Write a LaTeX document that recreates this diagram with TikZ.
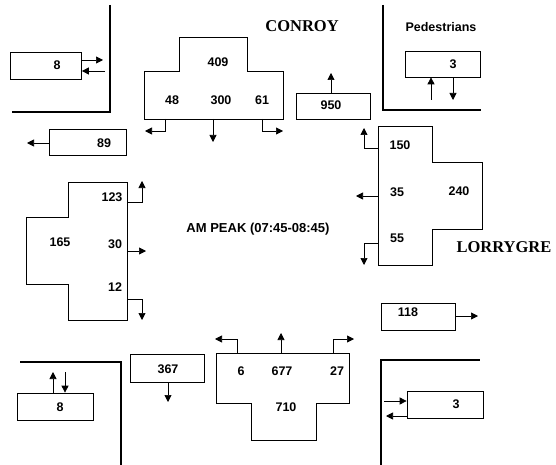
\documentclass[tikz,border=0pt]{standalone}
\usepackage{fontspec}
\setmainfont{Liberation Sans}
\newfontfamily\serifbold{Liberation Serif}
\usetikzlibrary{arrows.meta}
\tikzset{
  box/.style={draw, line width=0.7pt, inner sep=0pt},
  num/.style={font=\fontsize{12.5}{14}\selectfont\bfseries, inner sep=0pt},
  street/.style={font=\fontsize{16.5}{18}\serifbold\bfseries, inner sep=0pt},
  outline/.style={draw, line width=0.7pt},
  arr/.style={line width=0.7pt, -{Triangle[width=7pt,length=7pt]}},
  kerb/.style={line width=2.6pt}
}
\begin{document}
\begin{tikzpicture}[x=1pt,y=-1pt]
\useasboundingbox (0,0) rectangle (556,465);
% kerb corners
\draw[kerb] (110,5) -- (110,112) -- (12,112);
\draw[kerb] (383,5) -- (383,110) -- (481,110);
\draw[kerb] (20,362) -- (121,362) -- (121,465);
\draw[kerb] (381,465) -- (381,360) -- (480,360);
% titles
\node[street] (conroy) at (302,26) {CONROY};
\node[street] (lorry) at (504,247) {LORRYGRE};
\node[num] (ped) at (441,27) {Pedestrians};
\node[num, font=\fontsize{13}{15}\selectfont\bfseries] (peak) at (258,229) {AM PEAK (07:45-08:45)};
% north approach
\draw[outline] (179,37) -- (247,37) -- (247,71) -- (283,71) -- (283,119) -- (144,119) -- (144,71) -- (179,71) -- cycle;
\node[num] (n409) at (218,62) {409};
\node[num] (n48) at (172,100) {48};
\node[num] (n300) at (221,100) {300};
\node[num] (n61) at (262,100) {61};
\coordinate (nL) at (165,119); \coordinate (nLe) at (145,131);
\coordinate (nT) at (213,119); \coordinate (nTe) at (213,142);
\coordinate (nR) at (262,119); \coordinate (nRe) at (283,131);
\draw[arr] (nL) |- (nLe);
\draw[arr] (nT) -- (nTe);
\draw[arr] (nR) |- (nRe);
% east approach
\draw[outline] (378,126) -- (432,126) -- (432,162) -- (482,162) -- (482,229) -- (432,229) -- (432,265) -- (378,265) -- cycle;
\node[num] (e150) at (400,145) {150};
\node[num] (e35) at (397,192) {35};
\node[num] (e240) at (459,191) {240};
\node[num] (e55) at (397,238) {55};
\coordinate (eR) at (378,148); \coordinate (eRe) at (364,128);
\coordinate (eT) at (378,196); \coordinate (eTe) at (356,196);
\coordinate (eL) at (378,243); \coordinate (eLe) at (364,265);
\draw[arr] (eR) -| (eRe);
\draw[arr] (eT) -- (eTe);
\draw[arr] (eL) -| (eLe);
% west approach
\draw[outline] (68,182) -- (127,182) -- (127,320) -- (68,320) -- (68,284) -- (26,284) -- (26,217) -- (68,217) -- cycle;
\node[num] (w123) at (112,197) {123};
\node[num] (w165) at (60,242) {165};
\node[num] (w30) at (115,244) {30};
\node[num] (w12) at (115,287) {12};
\coordinate (wL) at (127,202); \coordinate (wLe) at (142,181);
\coordinate (wT) at (127,251); \coordinate (wTe) at (146,251);
\coordinate (wR) at (127,299); \coordinate (wRe) at (142,320);
\draw[arr] (wL) -| (wLe);
\draw[arr] (wT) -- (wTe);
\draw[arr] (wR) -| (wRe);
% south approach
\draw[outline] (216,353) -- (349,353) -- (349,403) -- (316,403) -- (316,440) -- (251,440) -- (251,403) -- (216,403) -- cycle;
\node[num] (s6) at (241,371) {6};
\node[num] (s677) at (282,371) {677};
\node[num] (s27) at (337,371) {27};
\node[num] (s710) at (286,407) {710};
\coordinate (sL) at (237,353); \coordinate (sLe) at (215,339);
\coordinate (sT) at (281,353); \coordinate (sTe) at (281,333);
\coordinate (sR) at (333,353); \coordinate (sRe) at (354,339);
\draw[arr] (sL) |- (sLe);
\draw[arr] (sT) -- (sTe);
\draw[arr] (sR) |- (sRe);
% exit boxes
\node[box, minimum width=77pt, minimum height=26pt] (b89) at (87.5,142) {};
\node[num] (t89) at (104,143) {89};
\coordinate (b89e) at (27,143);
\draw[arr] (b89.west |- 0,143) -- (b89e);

\node[box, minimum width=74pt, minimum height=26pt] (b950) at (333,106) {};
\node[num] (t950) at (331,105) {950};
\coordinate (b950e) at (331,73);
\draw[arr] (b950.north -| b950e) -- (b950e);

\node[box, minimum width=74pt, minimum height=27pt] (b118) at (418,316.5) {};
\node[num] (t118) at (408,312) {118};
\coordinate (b118e) at (478,316);
\draw[arr] (b118.east |- b118e) -- (b118e);

\node[box, minimum width=74pt, minimum height=28pt] (b367) at (167,368) {};
\node[num] (t367) at (168,369) {367};
\coordinate (b367e) at (168,402);
\draw[arr] (b367.south -| b367e) -- (b367e);
% pedestrian boxes
\node[box, minimum width=71pt, minimum height=27pt] (p1) at (46,65.5) {};
\node[num] (tp1) at (57,65) {8};
\coordinate (p1a) at (103,60); \coordinate (p1b) at (105,71);
\draw[arr] (p1.east |- p1a) -- (p1a);
\draw[arr] (p1b) -- (p1.east |- p1b);

\node[box, minimum width=75pt, minimum height=26pt] (p2) at (442.5,64) {};
\node[num] (tp2) at (453,64) {3};
\coordinate (p2a) at (431,100); \coordinate (p2b) at (453,100);
\draw[arr] (p2a) -- (p2.south -| p2a);
\draw[arr] (p2.south -| p2b) -- (p2b);

\node[box, minimum width=76pt, minimum height=27pt] (p3) at (55,406.5) {};
\node[num] (tp3) at (60,407) {8};
\coordinate (p3a) at (53,372); \coordinate (p3b) at (65,372);
\draw[arr] (p3.north -| p3a) -- (p3a);
\draw[arr] (p3b) -- (p3.north -| p3b);

\node[box, minimum width=76pt, minimum height=27pt] (p4) at (445,404.5) {};
\node[num] (tp4) at (456,404) {3};
\coordinate (p4a) at (384,401); \coordinate (p4b) at (386,416);
\draw[arr] (p4a) -- (p4.west |- p4a);
\draw[arr] (p4.west |- p4b) -- (p4b);
\end{tikzpicture}
\end{document}
